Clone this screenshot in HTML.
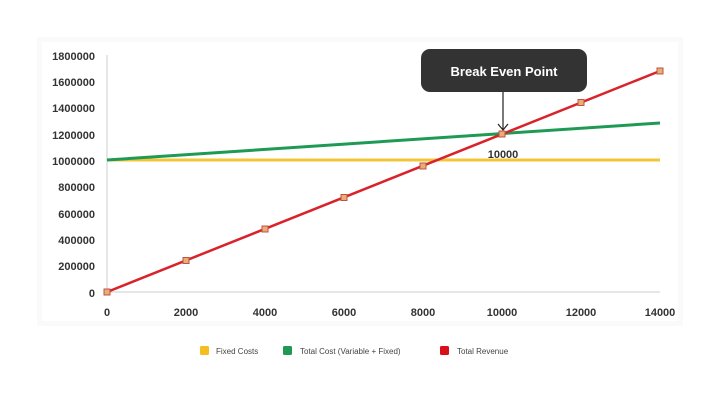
<!DOCTYPE html>
<html><head><style>body{margin:0;background:#fff}svg{display:block}</style></head><body>
<svg width="720" height="403" xmlns="http://www.w3.org/2000/svg" font-family="Liberation Sans, sans-serif">
<rect x="0" y="0" width="720" height="403" fill="#fff"/>
<rect x="37" y="37" width="646" height="289" fill="#fafafa"/>
<rect x="42" y="42" width="636" height="279" fill="#fff"/>
<g font-size="11" font-weight="bold" fill="#333" text-anchor="end">
<text x="95" y="60">1800000</text><text x="95" y="86">1600000</text><text x="95" y="112">1400000</text>
<text x="95" y="139">1200000</text><text x="95" y="165">1000000</text><text x="95" y="191">800000</text>
<text x="95" y="218">600000</text><text x="95" y="244">400000</text><text x="95" y="270">200000</text>
<text x="95" y="297">0</text>
</g>
<g font-size="11" font-weight="bold" fill="#333" text-anchor="middle">
<text x="107" y="316">0</text><text x="186" y="316">2000</text><text x="265" y="316">4000</text>
<text x="344" y="316">6000</text><text x="423" y="316">8000</text><text x="502" y="316">10000</text>
<text x="581" y="316">12000</text><text x="660" y="316">14000</text>
</g>
<line x1="107" y1="55" x2="107" y2="292" stroke="#ccc"/>
<line x1="107" y1="292" x2="660" y2="292" stroke="#ccc"/>
<line x1="107" y1="160" x2="660" y2="160" stroke="#f0c63a" stroke-width="3"/>
<line x1="107" y1="160" x2="660" y2="123" stroke="#1e9a55" stroke-width="3"/>
<line x1="107" y1="292" x2="660" y2="71" stroke="#d9232a" stroke-width="2.5"/>
<g fill="#e8b070" stroke="#c0504d" stroke-width="1">
<rect x="104" y="289" width="6" height="6"/><rect x="183" y="257.5" width="6" height="6"/>
<rect x="262" y="226" width="6" height="6"/><rect x="341" y="194.5" width="6" height="6"/>
<rect x="420" y="163" width="6" height="6"/><rect x="499" y="131" width="6" height="6"/>
<rect x="578" y="99.5" width="6" height="6"/><rect x="657" y="68" width="6" height="6"/>
</g>
<rect x="421" y="49" width="166" height="43" rx="9" fill="#333"/>
<text x="504" y="76" font-size="13" font-weight="bold" fill="#fff" text-anchor="middle">Break Even Point</text>
<line x1="503" y1="92" x2="503" y2="130" stroke="#222" stroke-width="1.2"/>
<path d="M498 124 L503 130 L508 124" fill="none" stroke="#222" stroke-width="1.2"/>
<text x="503" y="158" font-size="11" font-weight="bold" fill="#333" text-anchor="middle">10000</text>
<g font-size="8" fill="#444">
<rect x="200" y="346" width="9" height="9" rx="1.5" fill="#f6bd1f"/><text x="216" y="354">Fixed Costs</text>
<rect x="283" y="346" width="9" height="9" rx="1.5" fill="#1e9a55"/><text x="300" y="354">Total Cost (Variable + Fixed)</text>
<rect x="440" y="346" width="9" height="9" rx="1.5" fill="#d9101a"/><text x="457" y="354">Total Revenue</text>
</g>
</svg>
</body></html>
